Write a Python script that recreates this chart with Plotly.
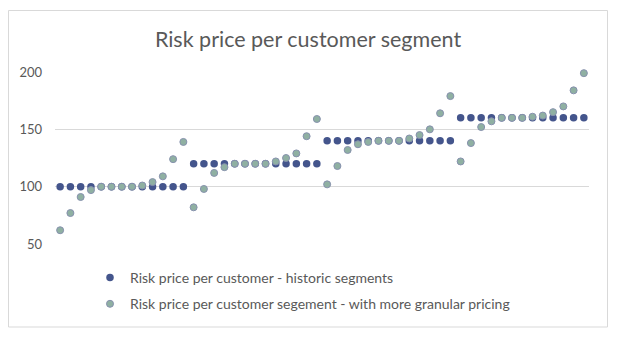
import plotly.graph_objects as go

customers = list(range(1, 53))

historic = [100] * 13 + [120] * 13 + [140] * 13 + [160] * 13

granular = [
    62, 77, 91, 97, 100, 100, 100, 100, 101, 104, 109, 124, 139,
    82, 98, 112, 117, 120, 120, 120, 120, 122, 125, 129, 144, 159,
    102, 118, 132, 137, 139, 140, 140, 140, 142, 145, 150, 164, 179,
    122, 138, 152, 157, 160, 160, 160, 161, 162, 165, 170, 184, 199,
]

y_ticks = [50, 100, 150, 200]

series_names = [
    "Risk price per customer - historic segments",
    "Risk price per customer segement - with more granular pricing",
]

FONT = "Lato, 'Open Sans', sans-serif"
GREY = "#595959"

fig = go.Figure()
fig.add_trace(go.Scatter(
    x=customers, y=historic, mode="markers", name=series_names[0],
    legendgroup="a", cliponaxis=False,
    marker=dict(size=7.5, color="#44558C", line=dict(width=0)),
))
fig.add_trace(go.Scatter(
    x=customers, y=granular, mode="markers", name=series_names[1],
    legendgroup="b", cliponaxis=False,
    marker=dict(size=7, color="#8FB0A2", line=dict(width=1, color="#8791AE")),
))

W, H = 625, 346
ml, mr, mt, mb = 55, 36, 72, 102
pw, ph = W - ml - mr, H - mt - mb

def px_x(p):
    return (p - ml) / pw

def px_y(p):
    return (H - mb - p) / ph

fig.update_layout(
    width=W, height=H,
    margin=dict(l=ml, r=mr, t=mt, b=mb),
    paper_bgcolor="white", plot_bgcolor="white",
    font=dict(family=FONT, color=GREY, size=12),
    title=dict(text="Risk price per customer segment", x=308 / W, xanchor="center",
               xref="container", y=1 - 39 / H, yref="container", yanchor="middle",
               font=dict(size=21.5, color=GREY, family=FONT)),
    xaxis=dict(range=[0.5, 52.5], showgrid=False, zeroline=False,
               showticklabels=False, showline=False, ticks=""),
    yaxis=dict(range=[50, 200], tickvals=y_ticks, showgrid=True,
               gridcolor="#D9D9D9", gridwidth=1, zeroline=False, showline=False,
               ticks="", ticklabelstandoff=12,
               tickfont=dict(size=13, color=GREY, family=FONT)),
    showlegend=True,
    legend=dict(x=px_x(90), xanchor="left", y=px_y(262), yanchor="top",
                traceorder="grouped", tracegroupgap=5,
                font=dict(size=14, color=GREY, family=FONT),
                bgcolor="rgba(0,0,0,0)"),
    shapes=[dict(type="rect", xref="paper", yref="paper",
                 x0=px_x(8.5), x1=px_x(607.5), y0=px_y(327), y1=px_y(10.5),
                 line=dict(color="#D9D9D9", width=1), fillcolor="rgba(0,0,0,0)",
                 layer="below")],
)

fig.write_html("out.html")
